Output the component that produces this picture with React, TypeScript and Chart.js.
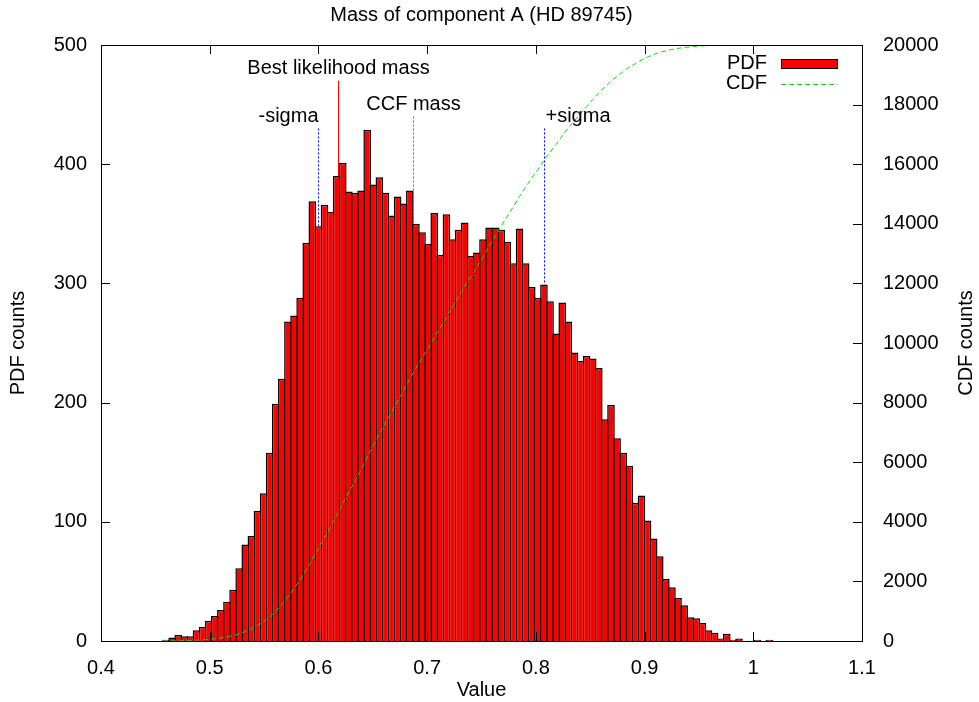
import React, { useEffect, useRef } from "react";
import { Chart, registerables } from "chart.js";

Chart.register(...registerables);

// ---------------- data ----------------
const TITLE = "Mass of component A (HD 89745)";
const X_LABEL = "Value";
const Y_LABEL = "PDF counts";
const Y2_LABEL = "CDF counts";
const SERIES_NAMES = ["PDF", "CDF"];

const X_TICKS = [0.4, 0.5, 0.6, 0.7, 0.8, 0.9, 1.0, 1.1];
const Y_TICKS = [0, 100, 200, 300, 400, 500];
const Y2_TICKS = [0, 2000, 4000, 6000, 8000, 10000, 12000, 14000, 16000, 18000, 20000];

// histogram binning (100 bins)
const BIN_START = 0.457;
const BIN_WIDTH = 0.005607;

const PDF_COUNTS = [
  1, 3, 5, 4, 4, 9, 12, 17, 21, 26,
  33, 43, 61, 81, 88, 109, 124, 158, 199, 220,
  268, 273, 288, 334, 369, 348, 366, 360, 390, 401,
  377, 376, 378, 429, 383, 389, 376, 357, 373, 367,
  378, 350, 343, 333, 359, 324, 358, 337, 345, 351,
  323, 326, 337, 347, 347, 345, 335, 317, 346, 317,
  297, 288, 299, 285, 258, 284, 268, 242, 235, 239,
  237, 229, 186, 198, 170, 158, 147, 116, 122, 101,
  86, 71, 52, 45, 36, 30, 20, 19, 15, 9,
  7, 2, 6, 1, 2, 0, 0, 1, 0, 1,
];

// annotation markers (x in Value units, y in PDF counts)
const MARKER_NAMES = ["Best likelihood mass", "CCF mass", "-sigma", "+sigma"];
const MARKER_X = [0.618, 0.687, 0.5995, 0.8074];
const MARKER_TEXT_Y = [480, 450, 440, 440];
const MARKER_LINE_TOP = [470, 440, 430, 430];

// ---------------- styles ----------------
const FONT_FAMILY = "'Liberation Sans', Arial, Helvetica, sans-serif";
const FONT_SIZE = 20;
const MARKER_STYLE = [
  { color: "#ff0000", dash: [] as number[], align: "center" },
  { color: "#ff00ff", dash: [2, 2], align: "center" },
  { color: "#0000ff", dash: [2, 2], align: "right" },
  { color: "#0000ff", dash: [2, 2], align: "left" },
];
const BAR_COLOR = "#ff0000";
const BAR_BORDER = 1.5;
const CDF_COLOR = "#00e000";
const CDF_DASH = [5, 3];

// ---------------- derived tables ----------------
const binCenters = PDF_COUNTS.map((_, i) => BIN_START + BIN_WIDTH * (i + 0.5));
const pdfPoints = PDF_COUNTS.map((c, i) => ({ x: binCenters[i], y: c }));
const cdfPoints: { x: number; y: number }[] = [{ x: BIN_START, y: 0 }];
{
  let acc = 0;
  PDF_COUNTS.forEach((c, i) => {
    acc += c;
    cdfPoints.push({ x: binCenters[i], y: acc });
  });
}
function pdfAt(x: number) {
  const i = Math.floor((x - BIN_START) / BIN_WIDTH);
  return i >= 0 && i < PDF_COUNTS.length ? PDF_COUNTS[i] : 0;
}

const font = (size = FONT_SIZE) => `${size}px ${FONT_FAMILY}`;

const decorPlugin = {
  id: "gnuplotDecor",
  afterDatasetsDraw(chart: any) {
    const { ctx, chartArea: a, scales } = chart;
    const xs = scales.x, ys = scales.y, y2s = scales.y2;
    const r = (v: number) => Math.round(v) + 0.5;
    ctx.save();

    // annotation markers
    MARKER_NAMES.forEach((name, i) => {
      const st = MARKER_STYLE[i];
      const px = r(xs.getPixelForValue(MARKER_X[i]));
      ctx.strokeStyle = st.color;
      ctx.lineWidth = 1;
      ctx.setLineDash(st.dash);
      ctx.beginPath();
      ctx.moveTo(px, ys.getPixelForValue(MARKER_LINE_TOP[i]));
      ctx.lineTo(px, ys.getPixelForValue(pdfAt(MARKER_X[i])));
      ctx.stroke();
      ctx.setLineDash([]);
      ctx.fillStyle = "#000";
      ctx.font = font();
      ctx.textBaseline = "middle";
      ctx.textAlign = st.align as CanvasTextAlign;
      const tx = st.align === "left" ? px + 1 : px;
      ctx.fillText(name, tx, ys.getPixelForValue(MARKER_TEXT_Y[i]));
    });

    // frame
    ctx.strokeStyle = "#000";
    ctx.lineWidth = 1;
    ctx.setLineDash([]);
    ctx.strokeRect(r(a.left), r(a.top), Math.round(a.right) - Math.round(a.left), Math.round(a.bottom) - Math.round(a.top));

    // inward ticks
    const TL = 9;
    ctx.beginPath();
    X_TICKS.forEach((v) => {
      const px = r(xs.getPixelForValue(v));
      ctx.moveTo(px, a.bottom);
      ctx.lineTo(px, a.bottom - TL);
      ctx.moveTo(px, a.top);
      ctx.lineTo(px, a.top + TL);
    });
    Y_TICKS.forEach((v) => {
      const py = r(ys.getPixelForValue(v));
      ctx.moveTo(a.left, py);
      ctx.lineTo(a.left + TL, py);
    });
    Y2_TICKS.forEach((v) => {
      const py = r(y2s.getPixelForValue(v));
      ctx.moveTo(a.right, py);
      ctx.lineTo(a.right - TL, py);
    });
    ctx.stroke();

    // title & axis titles
    ctx.fillStyle = "#000";
    ctx.font = font();
    ctx.textAlign = "center";
    ctx.textBaseline = "middle";
    const cx = (a.left + a.right) / 2;
    const cy = (a.top + a.bottom) / 2;
    ctx.fillText(TITLE, cx, 15);
    ctx.fillText(X_LABEL, cx, a.bottom + 49);
    ctx.save();
    ctx.translate(18, cy);
    ctx.rotate(-Math.PI / 2);
    ctx.fillText(Y_LABEL, 0, 0);
    ctx.restore();
    ctx.save();
    ctx.translate(966, cy);
    ctx.rotate(-Math.PI / 2);
    ctx.fillText(Y2_LABEL, 0, 0);
    ctx.restore();

    // legend
    const lx = a.right - 95;
    const sx0 = a.right - 81;
    const sx1 = a.right - 24;
    ctx.textAlign = "right";
    ctx.fillText(SERIES_NAMES[0], lx, a.top + 18);
    ctx.fillText(SERIES_NAMES[1], lx, a.top + 38);
    ctx.fillStyle = BAR_COLOR;
    ctx.fillRect(sx0, a.top + 14, sx1 - sx0, 10);
    ctx.strokeStyle = "#000";
    ctx.strokeRect(sx0 + 0.5, a.top + 14.5, sx1 - sx0 - 1, 9);
    ctx.strokeStyle = CDF_COLOR;
    ctx.setLineDash(CDF_DASH);
    ctx.beginPath();
    ctx.moveTo(sx0, a.top + 39.5);
    ctx.lineTo(sx1, a.top + 39.5);
    ctx.stroke();

    ctx.restore();
  },
};

export default function App() {
  const ref = useRef<HTMLCanvasElement | null>(null);
  useEffect(() => {
    if (!ref.current) return;
    const tickFont = { family: FONT_FAMILY, size: FONT_SIZE };
    const binPx = (761 * BIN_WIDTH) / 0.7;
    const chart = new Chart(ref.current, {
      type: "bar",
      data: {
        datasets: [
          {
            type: "line",
            label: SERIES_NAMES[1],
            data: cdfPoints,
            yAxisID: "y2",
            xAxisID: "x",
            borderColor: CDF_COLOR,
            borderWidth: 1,
            borderDash: CDF_DASH,
            pointRadius: 0,
            tension: 0,
            fill: false,
            order: 0,
          } as any,
          {
            type: "bar",
            label: SERIES_NAMES[0],
            data: pdfPoints,
            yAxisID: "y",
            xAxisID: "x",
            backgroundColor: BAR_COLOR,
            borderColor: "#000",
            borderWidth: BAR_BORDER,
            borderSkipped: "start",
            inflateAmount: 0,
            barPercentage: (binPx + BAR_BORDER) / binPx,
            categoryPercentage: 1,
            order: 1,
          } as any,
        ],
      },
      options: {
        responsive: false,
        animation: false,
        events: [],
        layout: { padding: { top: 45, left: 0, right: 0, bottom: 0 } },
        plugins: {
          legend: { display: false },
          title: { display: false },
          tooltip: { enabled: false },
        },
        scales: {
          x: {
            type: "linear",
            min: 0.4,
            max: 1.1,
            offset: false,
            grid: { display: false, offset: false },
            border: { display: false },
            ticks: {
              stepSize: 0.1,
              color: "#000",
              font: tickFont,
              padding: 7,
              maxRotation: 0,
              autoSkip: false,
              callback: (v: any) => String(Number(Number(v).toFixed(1))),
            },
            afterFit: (s: any) => {
              s.height = 61;
            },
          },
          y: {
            type: "linear",
            position: "left",
            min: 0,
            max: 500,
            grid: { display: false },
            border: { display: false },
            ticks: { stepSize: 100, color: "#000", font: tickFont, padding: 6, callback: (v: any) => String(v) },
            afterFit: (s: any) => {
              s.width = 101;
            },
          },
          y2: {
            type: "linear",
            position: "right",
            min: 0,
            max: 20000,
            grid: { display: false },
            border: { display: false },
            ticks: { stepSize: 2000, color: "#000", font: tickFont, padding: 13, callback: (v: any) => String(v) },
            afterFit: (s: any) => {
              s.width = 117;
            },
          },
        },
      } as any,
      plugins: [decorPlugin],
    });
    return () => chart.destroy();
  }, []);
  return (
    <div style={{ position: "fixed", left: 0, top: 0, width: 979, height: 702, background: "#fff" }}>
      <canvas ref={ref} width={979} height={702} style={{ width: 979, height: 702, display: "block" }} />
    </div>
  );
}
